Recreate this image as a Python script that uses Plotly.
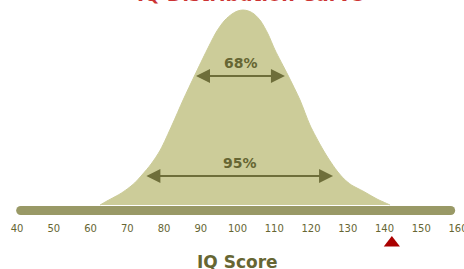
import plotly.graph_objects as go

# ---- data ----
curve_iq = [62.6, 64.0, 66.0, 68.0, 70.0, 72.0, 74.0, 76.5, 79.0, 82.2, 85.2, 88.4,
            91.7, 94.4, 96.6, 98.5, 100.0, 101.5, 103.0, 104.5, 106.3, 108.3,
            110.2, 113.7, 117.0, 119.7, 123.0, 125.0, 127.1, 129.0, 131.0, 134.1,
            136.0, 138.2, 140.0, 141.5]
curve_height = [0, 3, 7, 11, 16, 22, 30, 41, 55, 80, 105, 130,
                155, 174, 185, 191, 194, 195, 194, 191, 184, 171,
                155, 130, 105, 80, 57, 45, 34, 26, 20, 14,
                10, 5.5, 2.5, 0]

tick_values = [40, 50, 60, 70, 80, 90, 100, 110, 120, 130, 140, 150, 160]
tick_labels = [str(v) for v in tick_values]

band_labels = ["68%", "95%"]
band_start = [88.3, 74.8]
band_end = [112.9, 126.0]
band_level = [129, 29]

marker_score = [142]
axis_extent = [41, 158]

title_text = "IQ Distribution Curve"
axis_title = "IQ Score"

FILL = "#CCCC99"
BAR = "#999966"
DARK = "#666633"
RED = "#AA0000"

fig = go.Figure()

# bell curve
fig.add_trace(go.Scatter(
    x=curve_iq, y=curve_height, mode="lines",
    line=dict(color=FILL, width=1, shape="spline", smoothing=0.8),
    fill="tozeroy", fillcolor=FILL, hoverinfo="skip", showlegend=False))

# thick baseline bar with round ends
fig.add_trace(go.Scatter(
    x=axis_extent, y=[-5.5, -5.5], mode="lines+markers",
    line=dict(color=BAR, width=9),
    marker=dict(color=BAR, size=9, symbol="circle", line=dict(width=0)),
    hoverinfo="skip", showlegend=False, cliponaxis=False))

# red marker triangle
fig.add_trace(go.Scatter(
    x=marker_score, y=[-38], mode="markers",
    marker=dict(color=RED, size=14, symbol="triangle-up", line=dict(width=0)),
    hoverinfo="skip", showlegend=False, cliponaxis=False))

annotations = []
for lab, s, e, h in zip(band_labels, band_start, band_end, band_level):
    annotations.append(dict(
        x=e, y=h, ax=s, ay=h, xref="x", yref="y", axref="x", ayref="y",
        text="", showarrow=True, arrowhead=2, startarrowhead=2,
        arrowside="end+start", arrowsize=1.4, startarrowsize=1.4,
        arrowwidth=2, arrowcolor="#6E6E3A", standoff=0, startstandoff=0))
    annotations.append(dict(
        x=(s + e) / 2 + 0.3, y=h + 3, xref="x", yref="y", text="<b>" + lab + "</b>",
        showarrow=False, yanchor="bottom",
        font=dict(family="DejaVu Sans", size=14, color=DARK)))

annotations.append(dict(
    x=0.539, y=1 - 7 / 269, xref="paper", yref="paper", text="<b>" + title_text + "</b>",
    showarrow=False, yanchor="bottom", xanchor="center",
    font=dict(family="DejaVu Sans", size=19, color="#CC3333")))

annotations.append(dict(
    x=100, y=-57, xref="x", yref="y", text="<b>" + axis_title + "</b>",
    showarrow=False, yanchor="middle", xanchor="center",
    font=dict(family="DejaVu Sans", size=17, color=DARK)))

fig.update_layout(
    width=464, height=269,
    margin=dict(l=0, r=0, t=0, b=0),
    paper_bgcolor="white", plot_bgcolor="white",
    showlegend=False,
    annotations=annotations,
    xaxis=dict(range=[35.37, 161.63], showgrid=False, zeroline=False,
               showline=False, tickmode="array", tickvals=tick_values,
               ticktext=tick_labels, ticks="outside", ticklen=8,
               tickcolor="rgba(0,0,0,0)", anchor="free", position=58 / 269,
               automargin=False, ticklabeloverflow="allow",
               tickfont=dict(family="DejaVu Sans", size=10, color=DARK)),
    yaxis=dict(range=[-64, 205], visible=False, showgrid=False, zeroline=False),
)

fig.write_html("out.html", config={"displayModeBar": False},
               post_script="document.body.style.margin='0';document.body.style.padding='0';")
